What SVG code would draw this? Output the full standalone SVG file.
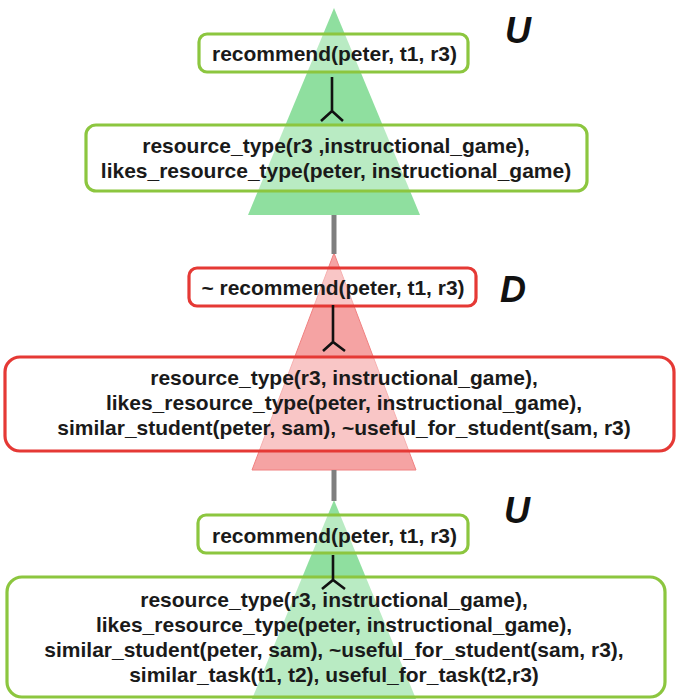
<svg xmlns="http://www.w3.org/2000/svg" width="676" height="699" viewBox="0 0 676 699">
<style>
.t{font-family:"Liberation Sans",Arial,sans-serif;font-size:21px;font-weight:bold;fill:#1a1a1a;text-anchor:middle}
.lbl{font-family:"Liberation Sans",Arial,sans-serif;font-size:36px;font-weight:bold;font-style:italic;fill:#111;text-anchor:middle}
.g{fill:#ffffff;fill-opacity:0.38;stroke:#8cc63f;stroke-width:3.2}
.r{fill:#ffffff;fill-opacity:0.38;stroke:#e53935;stroke-width:3.2}
.y{fill:none;stroke:#111;stroke-width:2.6;stroke-linejoin:miter}
.gray{stroke:#7f7f7f;stroke-width:5}
</style>
<rect width="676" height="699" fill="#ffffff"/>
<g id="trees">
<polygon points="334,8 420,215 248,215" fill="#8fdf9f"/>
<polygon points="334,253 416,470 252,470" fill="#f5a3a3" stroke="#f08080" stroke-width="1"/>
<polygon points="334,500 416,699 252,699" fill="#8fdf9f"/>
</g>
<g id="n1"><rect class="g" x="199" y="34" width="269" height="38" rx="8"/><text class="t" x="334.5" y="61">recommend(peter, t1, r3)</text></g>
<g id="n2"><rect class="g" x="86" y="125" width="501" height="66" rx="10"/><text class="t" x="336" y="153">resource_type(r3 ,instructional_game),</text><text class="t" x="336" y="178">likes_resource_type(peter, instructional_game)</text></g>
<g id="n3"><rect class="r" x="189" y="268" width="287" height="38" rx="8"/><text class="t" x="333" y="295">~ recommend(peter, t1, r3)</text></g>
<g id="n4"><rect class="r" x="5" y="357" width="669" height="94" rx="15"/><text class="t" x="344" y="385">resource_type(r3, instructional_game),</text><text class="t" x="344" y="410">likes_resource_type(peter, instructional_game),</text><text class="t" x="344" y="435">similar_student(peter, sam), ~useful_for_student(sam, r3)</text></g>
<g id="n5"><rect class="g" x="198" y="515" width="270" height="38" rx="8"/><text class="t" x="334.5" y="543">recommend(peter, t1, r3)</text></g>
<g id="n6"><rect class="g" x="7" y="577" width="658" height="120" rx="15"/><text class="t" x="334" y="607">resource_type(r3, instructional_game),</text><text class="t" x="334" y="632">likes_resource_type(peter, instructional_game),</text><text class="t" x="334" y="657">similar_student(peter, sam), ~useful_for_student(sam, r3),</text><text class="t" x="334" y="682">similar_task(t1, t2), useful_for_task(t2,r3)</text></g>
<g id="labels">
<text class="lbl" x="518" y="43">U</text>
<text class="lbl" x="513" y="302">D</text>
<text class="lbl" x="517" y="523">U</text>
</g>
<g id="connectors">
<line class="gray" x1="334" y1="215" x2="334" y2="254"/>
<line class="gray" x1="334" y1="470" x2="334" y2="501"/>
<path class="y" d="M332,77 V111 M321,121 L332,111 L343,121"/>
<path class="y" d="M333,305 V342 M323,351 L333,342 L345,351"/>
<path class="y" d="M333,555 V580 M322,589 L333,580 L345,589"/>
</g>
</svg>
